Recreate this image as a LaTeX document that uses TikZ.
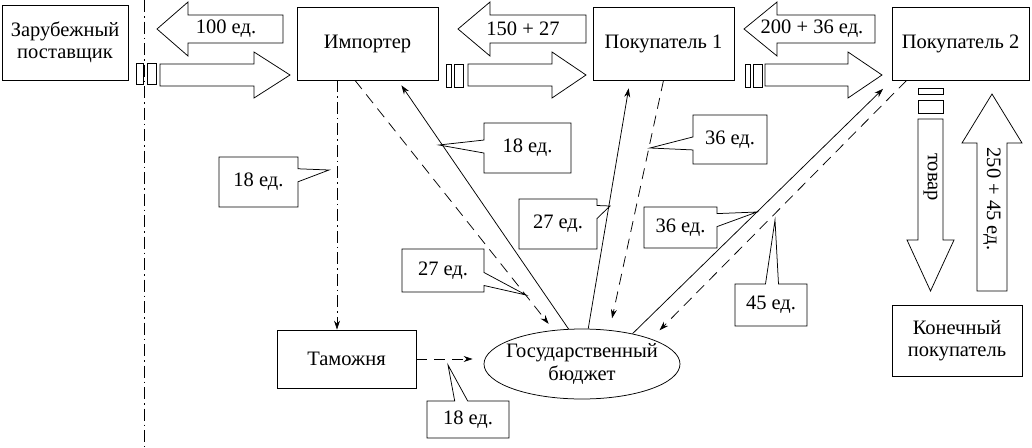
\documentclass[tikz,border=0pt]{standalone}
\usepackage{fontspec}
\setmainfont{Liberation Serif}
\usetikzlibrary{arrows.meta,shapes.geometric,shapes.callouts}

\tikzset{
  box/.style={draw,rectangle,align=center,inner sep=0pt},
  note/.style={draw,rectangle callout,callout pointer width=13pt,inner sep=0pt,align=center},
  tipp/.style={-{Stealth[length=9pt,width=6pt]}},
  dashedline/.style={dash pattern=on 11pt off 7pt},
  dashdotline/.style={dash pattern=on 12pt off 4pt on 1.5pt off 4pt},
  pics/fatarrow/.style args={#1/#2/#3/#4}{code={
    \draw (0,-#2) -- (#1-#4,-#2) -- (#1-#4,-#3) -- (#1,0) -- (#1-#4,#3) -- (#1-#4,#2) -- (0,#2) -- cycle;
  }},
}

\begin{document}
\begin{tikzpicture}[x=1pt,y=-1pt,line width=0.75pt,font=\fontsize{20.5}{22.5}\selectfont]
\useasboundingbox (0,0) rectangle (1032,447);

% участники
\node[box,minimum width=126pt,minimum height=75pt] (zar) at (65,42.5) {Зарубежный\\поставщик};
\node[box,minimum width=141pt,minimum height=73pt] (imp) at (367.5,43.5) {Импортер};
\node[box,minimum width=141pt,minimum height=73pt] (pok1) at (663.5,43.5) {Покупатель 1};
\node[box,minimum width=137pt,minimum height=73pt] (pok2) at (960.5,43.5) {Покупатель 2};
\node[box,minimum width=130pt,minimum height=71pt] (kon) at (957,340.5) {Конечный\\покупатель};
\node[box,minimum width=139pt,minimum height=58pt] (tam) at (346.5,359) {Таможня};
\node[draw,ellipse,align=center,inner xsep=-12pt,inner ysep=0pt,minimum width=196pt,minimum height=70pt] (bud) at (582,364) {Государственный\\бюджет};

% граница
\draw[dashdotline] (144,0) -- (144,447);

% потоки денег и товара
\pic[rotate=180] at (283,29) {fatarrow=126/14/27/31};
\node (m1) at (226,29) {100 ед.};
\pic at (160,75) {fatarrow=130/11/23/36};
\pic[rotate=180] at (586,29) {fatarrow=128/14/27/32};
\node (m2) at (523,29) {150 + 27};
\pic at (468,75) {fatarrow=118/11/23/34};
\pic[rotate=180] at (875,29) {fatarrow=131/14/27/33};
\node (m3) at (812,29) {200 + 36 ед.};
\pic at (765,75) {fatarrow=117/11/23/34};
\pic[rotate=-90] at (930.5,119) {fatarrow=172/12.5/23.5/51};
\node[rotate=-90] (tov) at (930.5,177) {товар};
\pic[rotate=90] at (992,291) {fatarrow=197/15/30/49};
\node[rotate=-90] (m4) at (992,199) {250 + 45 ед.};

\draw (136,63) rectangle (143,84);
\draw (147,63) rectangle (156,84);
\draw (446,64) rectangle (451,87);
\draw (454,64) rectangle (463,87);
\draw (745,64) rectangle (750,87);
\draw (753,64) rectangle (762,87);
\draw (918,88) rectangle (943,94);
\draw (918,100) rectangle (943,113);

% налоги
\draw[dashdotline,tipp] ([xshift=-30.5pt]imp.south) -- ([xshift=-30.5pt]imp.south |- tam.north);
\draw[dashedline,tipp,shorten >=8pt] ([xshift=-12.5pt]imp.south) -- (bud.130);
\draw[tipp,shorten >=6pt] (bud.111) -- ([xshift=30.5pt]imp.south);
\draw[tipp,shorten >=8pt] (bud.80) -- ([xshift=-33.5pt]pok1.south);
\draw[dashedline,tipp,shorten >=12pt] (pok1.south) -- (bud.51);
\draw[tipp,shorten >=12pt] (bud.31) -- (pok2.south west);
\draw[dashedline,tipp,shorten >=12pt] ([xshift=15pt]pok2.south west) -- (bud.20);
\draw[dashedline,tipp,shorten >=11pt] (tam.east) -- (tam.east -| bud.west);

% выноски
\node[note,minimum width=79pt,minimum height=50pt,callout absolute pointer={(329,170)}] (n1) at (258.5,182) {18 ед.};
\node[note,minimum width=87pt,minimum height=50pt,callout absolute pointer={(439,145)}] (n2) at (527.5,148) {18 ед.};
\node[note,minimum width=82pt,minimum height=43pt,callout absolute pointer={(526,295)}] (n3) at (443,270.5) {27 ед.};
\node[note,minimum width=78pt,minimum height=50pt,callout absolute pointer={(610,206)}] (n4) at (558,224) {27 ед.};
\node[note,minimum width=74pt,minimum height=49pt,callout absolute pointer={(650,148)}] (n5) at (730,139.5) {36 ед.};
\node[note,minimum width=73pt,minimum height=41pt,callout absolute pointer={(757,212)}] (n6) at (680.5,227.5) {36 ед.};
\node[note,minimum width=72pt,minimum height=42pt,callout absolute pointer={(775,220)}] (n7) at (771,305) {45 ед.};
\node[note,minimum width=82pt,minimum height=37pt,callout absolute pointer={(448,365)}] (n8) at (468,419.5) {18 ед.};
\end{tikzpicture}
\end{document}
